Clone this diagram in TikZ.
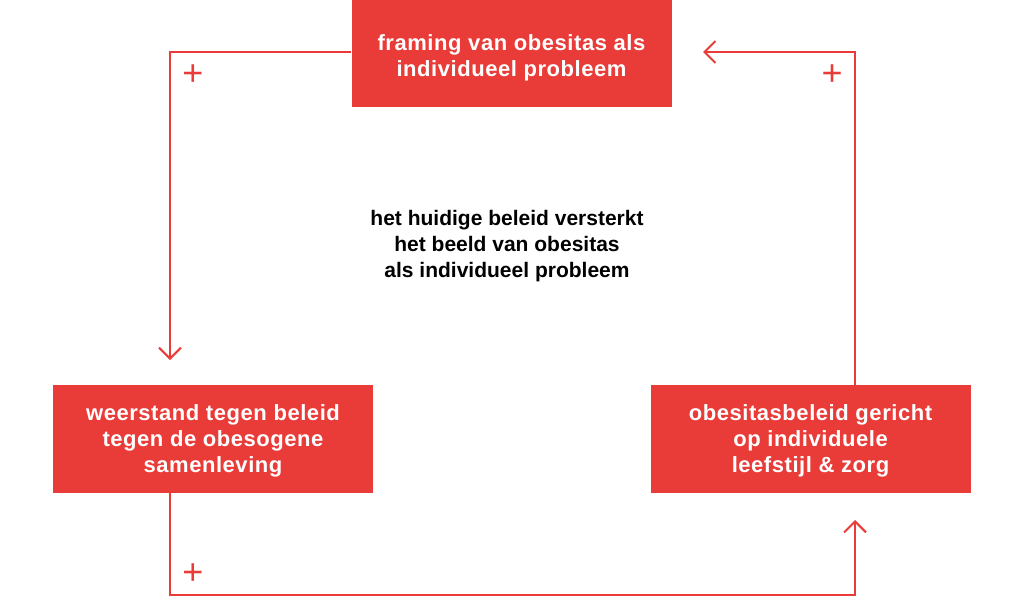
\documentclass[tikz,border=0pt]{standalone}
\usepackage{fontspec}
\setmainfont{Liberation Sans}
\newfontfamily\boxfont[LetterSpace=2.5]{Liberation Sans}
\usetikzlibrary{arrows.meta}
\definecolor{loopred}{RGB}{233,59,55}

\begin{document}
\begin{tikzpicture}[x=1pt, y=-1pt,
	box/.style={fill=loopred, text=white, font=\boxfont\bfseries\fontsize{22}{26}\selectfont,
		align=center, minimum width=320pt, minimum height=108pt, inner sep=0pt},
	link/.style={draw=loopred, line width=2pt, -{Straight Barb[length=11pt,width=22pt]}},
	sign/.style={text=loopred, font=\fontsize{36}{36}\selectfont, inner sep=0pt}]
	\useasboundingbox (0,0) rectangle (1024,598);
	\node[box, minimum height=107pt] (framing) at (511.5,53.5) {\rule{0pt}{24pt}framing van obesitas als\\individueel probleem};
	\node[box] (resist) at (213,439) {\rule{0pt}{20pt}weerstand tegen beleid\\tegen de obesogene\\samenleving};
	\node[box] (policy) at (810.5,439) {\rule{0pt}{20pt}obesitasbeleid gericht\\op individuele\\leefstijl \& zorg};
	\node[font=\bfseries\fontsize{21}{26}\selectfont, align=center] (loop) at (507,246)
		{het huidige beleid versterkt\\het beeld van obesitas\\als individueel probleem};
	\coordinate (lefttip) at (170,360);
	\coordinate (righttip) at (703,52);
	\coordinate (bottomtip) at (855,520);
	\coordinate (corner) at (170,595);
	\draw[link] ([yshift=1.5pt]framing.west) -| (lefttip);
	\draw[link] ([xshift=44.5pt]policy.north) |- (righttip);
	\draw[link] ([xshift=-43pt]resist.south) -- (corner) -| (bottomtip);
	\node[sign] (plusa) at (193,75) {+};
	\node[sign] (plusb) at (832,75) {+};
	\node[sign] (plusc) at (193,574) {+};
\end{tikzpicture}
\end{document}
